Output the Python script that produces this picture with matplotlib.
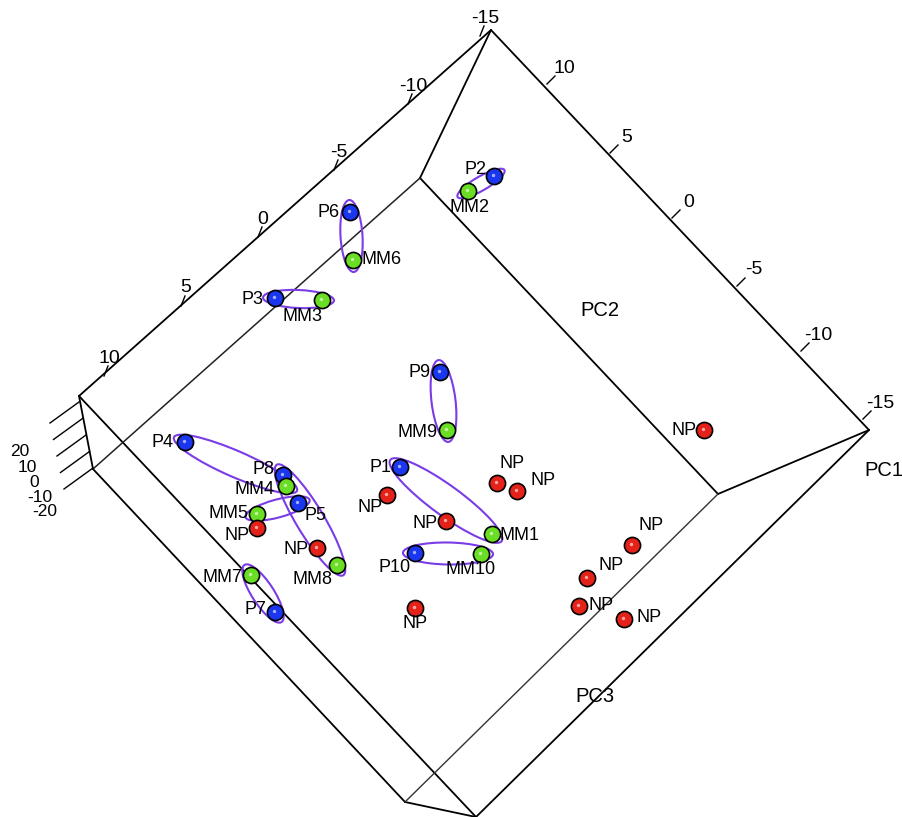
import numpy as np
import matplotlib.pyplot as plt
from matplotlib.patches import Ellipse

plt.rcParams['font.family'] = ['Liberation Sans', 'DejaVu Sans']

# sample scores as seen in the projected view (pixel units of the figure)
p_names = ['P1', 'P2', 'P3', 'P4', 'P5', 'P6', 'P7', 'P8', 'P9', 'P10']
p_x = [400, 494, 275, 185, 298, 350, 275, 283, 440, 415]
p_y = [467, 176, 298, 442, 503, 212, 612, 475, 372, 553]
p_lx = [381, 476, 253, 163, 316, 329, 255, 264, 420, 395]
p_ly = [467, 169, 299, 442, 516, 212, 610, 469, 372, 568]

mm_names = ['MM1', 'MM2', 'MM3', 'MM4', 'MM5', 'MM6', 'MM7', 'MM8', 'MM9', 'MM10']
mm_x = [492, 468, 322, 286, 257, 353, 251, 337, 447, 481]
mm_y = [534, 191, 300, 486, 514, 260, 575, 565, 430, 554]
mm_lx = [520, 470, 303, 255, 229, 382, 222, 313, 418, 471]
mm_ly = [535, 207, 316, 489, 513, 260, 578, 579, 432, 569]

np_x = [257, 317, 387, 446, 415, 497, 517, 704, 632, 587, 579, 624]
np_y = [528, 548, 495, 521, 608, 483, 491, 430, 545, 578, 606, 619]
np_lx = [237, 296, 370, 425, 415, 512, 543, 684, 651, 611, 601, 649]
np_ly = [535, 550, 508, 523, 624, 463, 480, 430, 525, 565, 606, 617]

# minor axis of the pair ellipses (P_i with MM_i)
pair_minor = [30, 14, 18, 26, 18, 22, 22, 28, 24, 22]

# box frame (projected corners)
A = (491, 30); B = (79, 396); B2 = (93, 469); C = (420, 178)
D = (718, 494); E = (869, 430); F = (405, 802); G = (476, 817)

axis3_ticks = ['-15', '-10', '-5', '0', '5', '10']
axis3_pos = [(485, 18), (413, 86), (339, 152), (263, 219), (186, 288), (109, 358)]
axis2_ticks = ['10', '5', '0', '-5', '-10', '-15']
axis2_pos = [(564, 68), (627, 137), (689, 202), (754, 270), (818, 335), (880, 403)]
axis1_ticks = ['20', '10', '0', '-10', '-20']
axis1_pos = [(20, 451), (27, 467), (34, 482), (40, 497), (45, 512)]

fig = plt.figure(figsize=(9.03, 8.17), dpi=100)
ax = fig.add_axes([0, 0, 1, 1])
ax.set_xlim(0, 903)
ax.set_ylim(817, 0)
ax.axis('off')

def seg(p, q, **kw):
    ax.plot([p[0], q[0]], [p[1], q[1]], solid_capstyle='round', **kw)

blk = dict(color='black', lw=1.3)
seg(A, B, **blk); seg(A, C, **blk); seg(C, D, **blk); seg(A, E, **blk)
seg(D, E, **blk); seg(B, B2, **blk); seg(B, G, **blk); seg(B2, F, **blk)
seg(E, G, **blk); seg(F, G, **blk)
seg(C, B2, color='#222222', lw=1.1)
seg(D, F, color='#333333', lw=1.0)

# ticks on the frame axes
for (tx, ty) in axis3_pos:
    ax.plot([tx - 5, tx - 1], [ty + 18, ty + 8], color='black', lw=1)
for lab, (tx, ty) in zip(axis3_ticks, axis3_pos):
    ax.text(tx, ty, lab, fontsize=14, ha='center', va='center')
for (tx, ty) in axis2_pos:
    ax.plot([tx - 17, tx - 9], [ty + 16, ty + 8], color='black', lw=1)
for lab, (tx, ty) in zip(axis2_ticks, axis2_pos):
    ax.text(tx, ty, lab, fontsize=14, ha='center', va='center')
for k in range(5):
    y0 = 402 + k * 16.5
    x0 = 79 + k * 3.5
    ax.plot([x0, x0 - 29], [y0, y0 + 21], color='black', lw=1)
for lab, (tx, ty) in zip(axis1_ticks, axis1_pos):
    ax.text(tx, ty, lab, fontsize=12.5, ha='center', va='center')

ax.text(600, 310, 'PC2', fontsize=14.5, ha='center', va='center')
ax.text(884, 470, 'PC1', fontsize=14.5, ha='center', va='center')
ax.text(595, 697, 'PC3', fontsize=14.5, ha='center', va='center')

# pair ellipses
for i, h in enumerate(pair_minor):
    x1, y1, x2, y2 = p_x[i], p_y[i], mm_x[i], mm_y[i]
    d = np.hypot(x2 - x1, y2 - y1)
    ang = np.degrees(np.arctan2(y2 - y1, x2 - x1))
    ax.add_patch(Ellipse(((x1 + x2) / 2, (y1 + y2) / 2), d + 24, h, angle=ang,
                         fill=False, ec='#7a3ce6', lw=1.5, zorder=3))

def spheres(xs, ys, col):
    ax.scatter(xs, ys, s=135, c=col, edgecolors='black', linewidths=1.2, zorder=4)
    ax.scatter(np.array(xs) - 1, np.array(ys) - 1, s=6, c='white', alpha=0.6,
               linewidths=0, zorder=5)

spheres(p_x, p_y, '#1a36ee')
spheres(mm_x, mm_y, '#6ade24')
spheres(np_x, np_y, '#e5221a')

for n, x, y in zip(p_names, p_lx, p_ly):
    ax.text(x, y, n, fontsize=13, ha='center', va='center', zorder=6)
for n, x, y in zip(mm_names, mm_lx, mm_ly):
    ax.text(x, y, n, fontsize=13, ha='center', va='center', zorder=6)
for x, y in zip(np_lx, np_ly):
    ax.text(x, y, 'NP', fontsize=13, ha='center', va='center', zorder=6)

fig.savefig('out.png', dpi=100)
